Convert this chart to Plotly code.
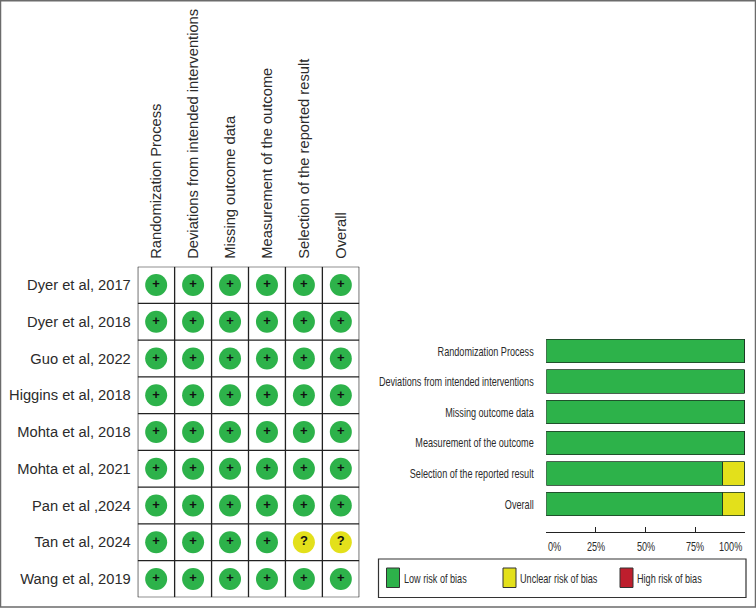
import plotly.graph_objects as go

studies = ["Dyer et al, 2017", "Dyer et al, 2018", "Guo et al, 2022", "Higgins et al, 2018",
           "Mohta et al, 2018", "Mohta et al, 2021", "Pan et al ,2024", "Tan et al, 2024", "Wang et al, 2019"]
domains = ["Randomization Process", "Deviations from intended interventions", "Missing outcome data",
           "Measurement of the outcome", "Selection of the reported result", "Overall"]
judgements = [
    ["+", "+", "+", "+", "+", "+"],
    ["+", "+", "+", "+", "+", "+"],
    ["+", "+", "+", "+", "+", "+"],
    ["+", "+", "+", "+", "+", "+"],
    ["+", "+", "+", "+", "+", "+"],
    ["+", "+", "+", "+", "+", "+"],
    ["+", "+", "+", "+", "+", "+"],
    ["+", "+", "+", "+", "?", "?"],
    ["+", "+", "+", "+", "+", "+"],
]
low_pct = [100, 100, 100, 100, 88.9, 88.9]
unclear_pct = [0, 0, 0, 0, 11.1, 11.1]
high_pct = [0, 0, 0, 0, 0, 0]
pct_ticks = [0, 25, 50, 75, 100]
legend_names = ["Low risk of bias", "Unclear risk of bias", "High risk of bias"]

GREEN, YELLOW, RED = "#2DB24A", "#E3E01B", "#BE1E2D"
INK = "#2b2b2b"
W, H = 756, 608
SANS = "Liberation Sans"

def px(x): return x / W
def py(y): return 1 - y / H

fig = go.Figure()

# Traffic-light grid
xs, ys, cols, texts = [], [], [], []
for r, study in enumerate(studies):
    for c, dom in enumerate(domains):
        xs.append(dom); ys.append(study)
        texts.append("<b>%s</b>" % judgements[r][c])
        cols.append(GREEN if judgements[r][c] == "+" else YELLOW)
fig.add_trace(go.Scatter(x=xs, y=ys, mode="markers+text", text=texts, textposition="middle center",
                         textfont=dict(family=SANS, size=13, color="#111"),
                         marker=dict(size=22, color=cols, line=dict(width=0)),
                         xaxis="x", yaxis="y", showlegend=False, cliponaxis=False))

# Summary bars
for vals, name, col in zip([low_pct, unclear_pct, high_pct], legend_names, [GREEN, YELLOW, RED]):
    fig.add_trace(go.Bar(y=domains, x=vals, orientation="h", name=name, xaxis="x2", yaxis="y2",
                         marker=dict(color=col, line=dict(color="#1d3a24", width=0.8)),
                         width=0.77, showlegend=False))

shapes = []
for i in range(len(domains) + 1):
    shapes.append(dict(type="line", xref="x", yref="y", x0=i - .5, x1=i - .5, y0=-.5, y1=len(studies) - .5,
                       line=dict(color="#222", width=1.3)))
for i in range(len(studies) + 1):
    shapes.append(dict(type="line", xref="x", yref="y", x0=-.5, x1=len(domains) - .5, y0=i - .5, y1=i - .5,
                       line=dict(color="#222", width=1.3)))
shapes.append(dict(type="rect", xref="paper", yref="paper", x0=px(.5), x1=px(755.5), y0=py(607), y1=py(.8),
                   line=dict(color="#6b6b6b", width=1.5), layer="below"))
shapes.append(dict(type="rect", xref="paper", yref="paper", x0=px(378.5), x1=px(746), y0=py(597.5), y1=py(559),
                   line=dict(color="#333", width=1.2)))
annotations = []
for left, name, col in zip([386.5, 503, 620], legend_names, [GREEN, YELLOW, RED]):
    shapes.append(dict(type="rect", xref="paper", yref="paper", x0=px(left), x1=px(left + 13), y0=py(587.5), y1=py(568),
                       fillcolor=col, line=dict(color="#333", width=1)))
    annotations.append(dict(xref="paper", yref="paper", x=px(left + 15), y=py(578.5), text=name, showarrow=False,
                            xanchor="left", yanchor="middle", font=dict(family=SANS, size=13, color=INK)))
for t in pct_ticks:
    anchor = "left" if t == 0 else ("right" if t == 100 else "center")
    annotations.append(dict(xref="x2", yref="paper", x=t, y=py(546), text="%d%%" % t, showarrow=False,
                            xanchor=anchor, yanchor="middle", font=dict(family=SANS, size=13, color=INK)))

fig.update_layout(
    width=W, height=H, autosize=False, margin=dict(l=0, r=0, t=0, b=0),
    paper_bgcolor="white", plot_bgcolor="white", barmode="stack", shapes=shapes, annotations=annotations,
    xaxis=dict(domain=[px(137.7), px(359.3)], type="category", categoryorder="array", categoryarray=domains,
               range=[-.5, 5.5], side="top", tickangle=-90, ticks="outside", ticklen=4, tickcolor="rgba(0,0,0,0)",
               showgrid=False, zeroline=False, showline=False, tickfont=dict(family=SANS, size=14.7, color=INK)),
    yaxis=dict(domain=[py(597.3), py(266.7)], type="category", categoryorder="array", categoryarray=studies,
               range=[8.5, -.5], ticks="outside", ticklen=3, tickcolor="rgba(0,0,0,0)",
               showgrid=False, zeroline=False, showline=False, tickfont=dict(family=SANS, size=14.7, color=INK)),
    xaxis2=dict(domain=[px(546.3), px(744.7)], range=[0, 100], anchor="free", position=py(532), tickvals=pct_ticks,
                showticklabels=False, ticks="inside", ticklen=5, tickcolor="#222", showline=True, linecolor="#222",
                linewidth=1.2, showgrid=False, zeroline=False),
    yaxis2=dict(domain=[py(519.3), py(335.7)], type="category", categoryorder="array", categoryarray=domains,
                range=[5.5, -.5], anchor="x2", ticks="outside", ticklen=9, tickcolor="rgba(0,0,0,0)",
                showgrid=False, zeroline=False, showline=False, tickfont=dict(family=SANS, size=13, color=INK)),
)

# The reference's right-hand panel uses horizontally condensed lettering; no narrow font is installed,
# so the real text is condensed in the browser, keeping each label's anchor edge in place.
post = """
document.body.style.margin='0';
var gd=document.querySelector('.js-plotly-plot');
var k=0.70;
gd.querySelectorAll('.y2tick text').forEach(function(t){
  t.setAttribute('textLength', t.getComputedTextLength()*k);
  t.setAttribute('lengthAdjust','spacingAndGlyphs');
});
gd.querySelectorAll('.annotation').forEach(function(a){
  var t=a.querySelector('text');
  var w=t.getComputedTextLength();
  var anchor=gd.layout.annotations[+a.getAttribute('data-index')].xanchor;
  t.setAttribute('textLength', w*k);
  t.setAttribute('lengthAdjust','spacingAndGlyphs');
  var dx=anchor==='left'?-w*(1-k)/2:(anchor==='right'?w*(1-k)/2:0);
  t.setAttribute('x', parseFloat(t.getAttribute('x'))+dx);
});
"""
fig.write_html("out.html", post_script=post, config={"displayModeBar": False})
